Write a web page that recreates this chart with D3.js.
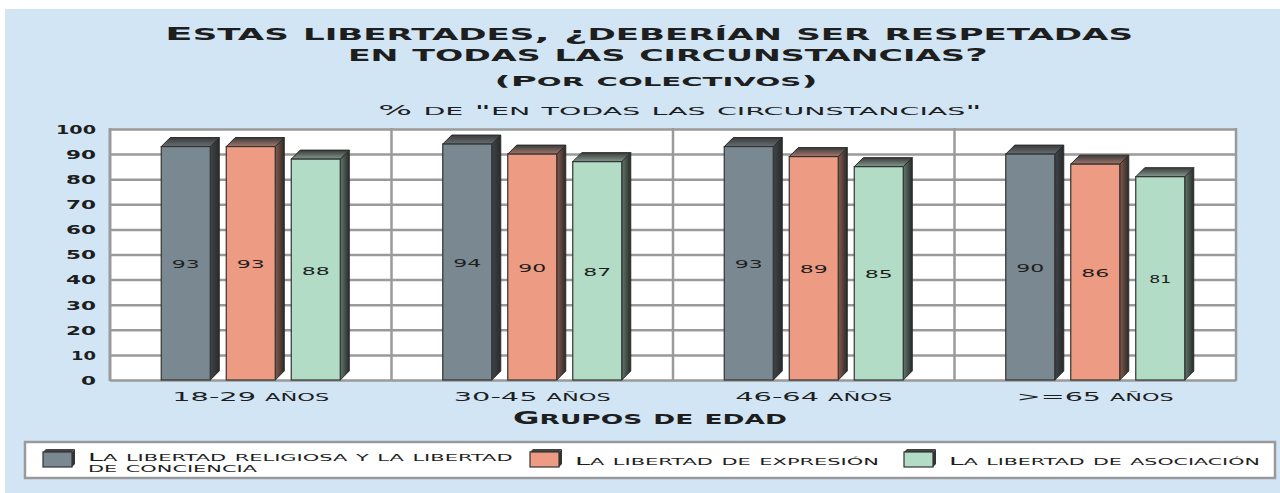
<!DOCTYPE html>
<html>
<head>
<meta charset="utf-8">
<script src="https://cdnjs.cloudflare.com/ajax/libs/d3/7.8.5/d3.min.js"></script>
<style>
    body { margin: 0; background: #fff; }
    svg { display: block; }
    text { font-family: "DejaVu Sans", sans-serif; fill: #1e1e1e; }
</style>
</head>
<body>
<script>

// Data
var categories = ["18-29 años", "30-45 años", "46-64 años", ">=65 años"];
var seriesNames = ["La libertad religiosa y la libertad de conciencia", "La libertad de expresión", "La libertad de asociación"];
var religiosa = [93, 94, 93, 90];
var expresion = [93, 90, 89, 86];
var asociacion = [88, 87, 85, 81];
var yTicks = [0, 10, 20, 30, 40, 50, 60, 70, 80, 90, 100];

var seriesValues = [religiosa, expresion, asociacion];
var seriesColors = ["#798891", "#ee9b83", "#b2dcc6"];
var seriesSide = ["#3e464b", "#8a5a4c", "#5f7a6c"];

var W = 1280, H = 493;
var depth = 9;

var svg = d3.select("body").append("svg")
    .attr("width", W)
    .attr("height", H);

var defs = svg.append("defs");

// background
svg.append("rect").attr("x", 0).attr("y", 0).attr("width", W).attr("height", H).attr("fill", "#fff");
svg.append("rect").attr("x", 5).attr("y", 9).attr("width", W - 5).attr("height", H - 9).attr("fill", "#d1e5f4");

// copperplate-like small caps: lowercase runs drawn as smaller capitals
function smallCaps(sel, ratio) {
    sel.each(function () {
        var t = d3.select(this), s = t.text();
        t.text(null);
        var runs = s.match(/(\p{Ll}+|[^\p{Ll}]+)/gu) || [];
        runs.forEach(function (r) {
            var lower = /\p{Ll}/u.test(r);
            var ts = t.append("tspan").text(r);
            if (lower) ts.style("font-size", ratio + "em").style("text-transform", "uppercase");
        });
    });
}

// stretch a text horizontally to a given width, around its anchor point
function fitWidth(sel, width) {
    sel.each(function (d, i) {
        var w = (typeof width === "function") ? width(d, i) : width;
        var node = this, t = d3.select(this);
        var cur = node.getComputedTextLength();
        if (!cur) return;
        var x = +t.attr("x") || 0, yy = +t.attr("y") || 0;
        var sx = w / cur;
        var prev = t.attr("transform") || "";
        t.attr("transform", prev + " translate(" + x + "," + yy + ") scale(" + sx + ",1) translate(" + (-x) + "," + (-yy) + ")");
    });
}

function label(x, y, size, weight, str, width, ratio) {
    var t = svg.append("text").attr("x", x).attr("y", y).attr("text-anchor", "middle")
        .style("font-size", size + "px").style("font-weight", weight)
        .text(str);
    t.call(smallCaps, ratio || 0.8).call(fitWidth, width);
    return t;
}

// Titles
label(649, 40, 18.5, "bold", "Estas libertades, ¿deberían ser respetadas", 968, 0.84);
label(668, 61, 18.5, "bold", "en todas las circunstancias?", 640, 0.84);
label(656, 86, 14.5, "bold", "(Por colectivos)", 323, 0.82);
label(680, 115, 13.5, "normal", "% de \"en todas las circunstancias\"", 604, 0.8);

// Plot area
var plot = {left: 110, right: 1236, top: 129, bottom: 380};

var x0 = d3.scaleBand().domain(categories).range([plot.left, plot.right]);
var x1 = d3.scaleBand().domain(d3.range(seriesNames.length)).range([0, 179]).paddingInner(16 / 65);
var y = d3.scaleLinear().domain([0, 100]).range([plot.bottom, plot.top]);

svg.append("rect")
    .attr("x", plot.left).attr("y", plot.top)
    .attr("width", plot.right - plot.left).attr("height", plot.bottom - plot.top)
    .attr("fill", "#fff");

// horizontal grid
var grid = svg.append("g")
    .attr("transform", "translate(" + plot.left + ",0)")
    .call(d3.axisLeft(y).tickValues(yTicks).tickFormat("").tickSize(-(plot.right - plot.left)));
grid.select(".domain").remove();
grid.selectAll("line").attr("stroke", "#9a9a9a").attr("stroke-width", 2.5);

// vertical category separators
svg.append("g").selectAll("line")
    .data(categories.concat(["end"]))
    .enter().append("line")
    .attr("x1", function (d, i) { return i < categories.length ? x0(d) : plot.right; })
    .attr("x2", function (d, i) { return i < categories.length ? x0(d) : plot.right; })
    .attr("y1", plot.top - 1).attr("y2", plot.bottom + 1)
    .attr("stroke", "#9a9a9a")
    .attr("stroke-width", function (d, i) { return (i == 0) ? 3 : 2.5; });

// y axis labels
var yAxis = svg.append("g")
    .attr("transform", "translate(96,0)")
    .call(d3.axisLeft(y).tickValues(yTicks).tickSize(0).tickPadding(0));
yAxis.select(".domain").remove();
yAxis.selectAll("text")
    .style("font-size", "12px").style("font-weight", "bold")
    .attr("dy", "0.36em")
    .call(fitWidth, function (d) {
        var s = String(d), len = 0;
        for (var k = 0; k < s.length; k++) len += (s[k] == "1") ? 10 : 15;
        return len;
    });

// gradients for 3D faces
seriesColors.forEach(function (c, i) {
    var gs = defs.append("linearGradient").attr("id", "side" + i)
        .attr("x1", "0").attr("x2", "1").attr("y1", "0").attr("y2", "0");
    gs.append("stop").attr("offset", "0%").attr("stop-color", seriesSide[i]);
    gs.append("stop").attr("offset", "100%").attr("stop-color", "#2a2a2a");
    var gt = defs.append("linearGradient").attr("id", "top" + i)
        .attr("x1", "0").attr("x2", "0").attr("y1", "0").attr("y2", "1");
    gt.append("stop").attr("offset", "0%").attr("stop-color", "#3a3a3a");
    gt.append("stop").attr("offset", "100%").attr("stop-color", d3.interpolateRgb("#555", c)(0.5));
});

var barData = [];
categories.forEach(function (c, ci) {
    seriesValues.forEach(function (vals, si) {
        barData.push({cat: c, s: si, value: vals[ci]});
    });
});

function barX(d) {
    return x0(d.cat) + x0.bandwidth() / 2 - 89.5 + x1(d.s);
}

var bars = svg.append("g").selectAll(".bar")
    .data(barData)
    .enter().append("g")
    .attr("class", "bar");

var bw = x1.bandwidth();

// side face
bars.append("path")
    .attr("d", function (d) {
        var xr = barX(d) + bw, yt = y(d.value), yb = y(0);
        return "M" + xr + "," + yt + "L" + (xr + depth) + "," + (yt - depth) +
            "L" + (xr + depth) + "," + (yb - depth) + "L" + xr + "," + yb + "Z";
    })
    .attr("fill", function (d) { return "url(#side" + d.s + ")"; })
    .attr("stroke", "#2a2a2a").attr("stroke-width", 1);

// top face
bars.append("path")
    .attr("d", function (d) {
        var xl = barX(d), yt = y(d.value);
        return "M" + xl + "," + yt + "L" + (xl + depth) + "," + (yt - depth) +
            "L" + (xl + bw + depth) + "," + (yt - depth) + "L" + (xl + bw) + "," + yt + "Z";
    })
    .attr("fill", function (d) { return "url(#top" + d.s + ")"; })
    .attr("stroke", "#2a2a2a").attr("stroke-width", 1);

// front face
bars.append("rect")
    .attr("x", barX)
    .attr("y", function (d) { return y(d.value); })
    .attr("width", bw)
    .attr("height", function (d) { return y(0) - y(d.value); })
    .attr("fill", function (d) { return seriesColors[d.s]; })
    .attr("stroke", "#333").attr("stroke-width", 1.2);

// value labels
bars.append("text")
    .attr("x", function (d) { return barX(d) + bw / 2; })
    .attr("y", function (d) { return (y(d.value) + y(0)) / 2 + 5; })
    .attr("text-anchor", "middle")
    .style("font-size", "10.5px")
    .text(function (d) { return d.value; })
    .call(fitWidth, function (d) { return String(d.value).indexOf("1") >= 0 ? 22 : 28; });

// x axis labels
var xAxis = svg.append("g")
    .attr("transform", "translate(0," + plot.bottom + ")")
    .call(d3.axisBottom(x0).tickSize(0).tickPadding(0));
xAxis.select(".domain").remove();
xAxis.selectAll("text")
    .attr("y", 21).attr("dy", 0)
    .style("font-size", "13px")
    .call(smallCaps, 0.78)
    .call(fitWidth, 157);

label(650, 424, 17, "bold", "Grupos de edad", 274, 0.82);

// Legend
svg.append("rect")
    .attr("x", 25).attr("y", 442).attr("width", 1250).attr("height", 36)
    .attr("fill", "#fff").attr("stroke", "#9a9a9a").attr("stroke-width", 2.5);

var legendItems = [
    {x: 43, lines: ["La libertad religiosa y la libertad", "de conciencia"], widths: [425, 169]},
    {x: 530, lines: ["La libertad de expresión"], widths: [304]},
    {x: 904, lines: ["La libertad de asociación"], widths: [311]}
];

var legend = svg.append("g").selectAll(".legendItem")
    .data(legendItems)
    .enter().append("g")
    .attr("class", "legendItem");

legend.append("path")
    .attr("d", function (d) {
        return "M" + (d.x + 29) + ",452L" + (d.x + 32) + ",449L" + (d.x + 32) + ",464L" + (d.x + 29) + ",467Z";
    })
    .attr("fill", "#333");
legend.append("path")
    .attr("d", function (d) {
        return "M" + d.x + ",452L" + (d.x + 3) + ",449L" + (d.x + 32) + ",449L" + (d.x + 29) + ",452Z";
    })
    .attr("fill", "#444");
legend.append("rect")
    .attr("x", function (d) { return d.x; })
    .attr("y", 452).attr("width", 29).attr("height", 15)
    .attr("fill", function (d, i) { return seriesColors[i]; })
    .attr("stroke", "#333").attr("stroke-width", 1.2);

legend.each(function (d) {
    var g = d3.select(this);
    d.lines.forEach(function (line, li) {
        var yy = d.lines.length == 1 ? 465 : 461 + li * 11;
        g.append("text")
            .attr("x", d.x + 45).attr("y", yy)
            .style("font-size", "11px")
            .text(line)
            .call(smallCaps, 0.78)
            .call(fitWidth, d.widths[li]);
    });
});

</script>
</body>
</html>
